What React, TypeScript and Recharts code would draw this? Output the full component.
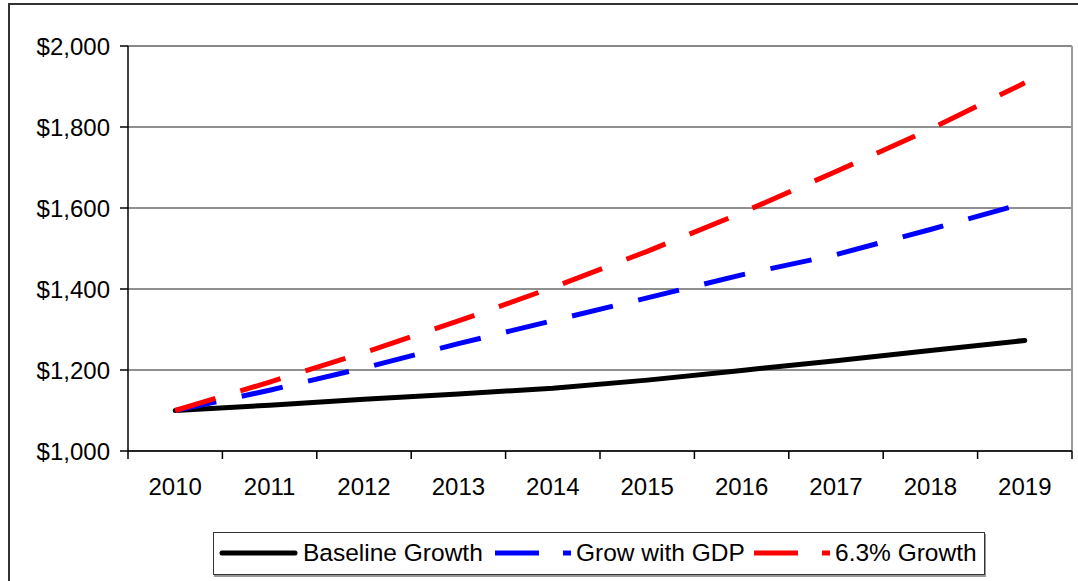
import React from "react";
import {
  LineChart,
  Line,
  XAxis,
  YAxis,
  CartesianGrid,
  ReferenceLine,
} from "recharts";

// values
const years = ["2010", "2011", "2012", "2013", "2014", "2015", "2016", "2017", "2018", "2019"];
const baselineGrowth = [1100, 1113, 1128, 1141, 1155, 1175, 1199, 1223, 1248, 1273];
const growWithGdp = [1100, 1150, 1205, 1265, 1322, 1378, 1435, 1485, 1547, 1612];
const growth63 = [1100, 1170, 1243, 1321, 1404, 1493, 1588, 1690, 1795, 1909];
const yTicks = [1000, 1200, 1400, 1600, 1800, 2000];

const FONT = "'Liberation Sans', Arial, sans-serif";
const TICK_SIZE = 8;
const X_TICK_MARGIN = 19;

const data = years.map((year, i) => ({
  idx: i,
  year,
  baseline: baselineGrowth[i],
  gdp: growWithGdp[i],
  growth: growth63[i],
}));

const centerTicks = years.map((_, i) => i);

const tickStyle = { fontSize: 24, fill: "#000", fontFamily: FONT };

// year label at band centre, tick marks on the band boundaries (Excel style)
function YearTick(props: any) {
  const { x, y, payload, index, width } = props;
  const half = (width || 944) / years.length / 2;
  const axisY = y - TICK_SIZE - X_TICK_MARGIN;
  return (
    <g>
      <line x1={x - half} x2={x - half} y1={axisY} y2={axisY + TICK_SIZE} stroke="#000" strokeWidth={1.5} />
      {index === years.length - 1 && (
        <line x1={x + half} x2={x + half} y1={axisY} y2={axisY + TICK_SIZE} stroke="#000" strokeWidth={1.5} />
      )}
      <text x={x} y={y} dy="0.71em" textAnchor="middle" {...tickStyle}>
        {years[payload.value]}
      </text>
    </g>
  );
}

function LegendSample({ color, dashed }: { color: string; dashed: boolean }) {
  return (
    <svg width={80} height={12} style={{ display: "block" }}>
      <line
        x1={dashed ? 0 : 3}
        y1={6}
        x2={76}
        y2={6}
        stroke={color}
        strokeWidth={5}
        strokeLinecap={dashed ? "butt" : "round"}
        strokeDasharray={dashed ? "44 24 8 100" : undefined}
      />
    </svg>
  );
}

const legendText: React.CSSProperties = {
  position: "absolute",
  top: 6,
  fontSize: 24.5,
  lineHeight: "28px",
  color: "#000",
  whiteSpace: "nowrap",
};

export default function App() {
  return (
    <div
      style={{
        position: "absolute",
        left: 0,
        top: 0,
        width: 1078,
        height: 581,
        overflow: "hidden",
        background: "#fff",
        fontFamily: FONT,
      }}
    >
      {/* outer chart frame */}
      <div
        style={{
          position: "absolute",
          left: 8,
          top: 3,
          width: 1100,
          height: 620,
          border: "2px solid #333",
        }}
      />
      <div style={{ position: "absolute", left: 0, top: 0 }}>
        <LineChart
          width={1078}
          height={581}
          data={data}
          margin={{ top: 46, right: 6, bottom: 90, left: 0 }}
        >
          <CartesianGrid vertical={false} stroke="#222" strokeWidth={1.2} />
          <XAxis
            type="number"
            dataKey="idx"
            domain={[-0.5, 9.5]}
            ticks={centerTicks}
            interval={0}
            height={40}
            axisLine={{ stroke: "#000", strokeWidth: 1.5 }}
            tickLine={false}
            tickSize={TICK_SIZE}
            tickMargin={X_TICK_MARGIN}
            tick={<YearTick />}
          />
          <YAxis
            domain={[1000, 2000]}
            ticks={yTicks}
            width={128}
            interval={0}
            tickFormatter={(v: number) => `$${v.toLocaleString("en-US")}`}
            axisLine={{ stroke: "#000", strokeWidth: 1.5 }}
            tickLine={{ stroke: "#000", strokeWidth: 1.5 }}
            tickSize={TICK_SIZE}
            tickMargin={10}
            tick={tickStyle}
          />
          <ReferenceLine y={2000} stroke="#888" strokeWidth={2} />
          <ReferenceLine x={9.5} stroke="#999" strokeWidth={2} />
          <Line
            type="linear"
            dataKey="baseline"
            stroke="#000"
            strokeWidth={5}
            strokeLinecap="round"
            dot={false}
            isAnimationActive={false}
          />
          <Line
            type="linear"
            dataKey="gdp"
            stroke="#0000ff"
            strokeWidth={5}
            strokeDasharray="42 26"
            dot={false}
            isAnimationActive={false}
          />
          <Line
            type="linear"
            dataKey="growth"
            stroke="#ff0000"
            strokeWidth={5}
            strokeDasharray="42 26"
            dot={false}
            isAnimationActive={false}
          />
        </LineChart>
      </div>
      {/* legend */}
      <div
        style={{
          position: "absolute",
          left: 213,
          top: 532,
          width: 770,
          height: 41,
          border: "1px solid #333",
          boxShadow: "1px 2px 0 #999",
          background: "#fff",
        }}
      >
        <div style={{ position: "absolute", left: 5, top: 14 }}>
          <LegendSample color="#000" dashed={false} />
        </div>
        <span style={{ ...legendText, left: 89 }}>Baseline Growth</span>
        <div style={{ position: "absolute", left: 281, top: 14 }}>
          <LegendSample color="#0000ff" dashed={true} />
        </div>
        <span style={{ ...legendText, left: 362 }}>Grow with GDP</span>
        <div style={{ position: "absolute", left: 540, top: 14 }}>
          <LegendSample color="#ff0000" dashed={true} />
        </div>
        <span style={{ ...legendText, left: 621 }}>6.3% Growth</span>
      </div>
    </div>
  );
}
